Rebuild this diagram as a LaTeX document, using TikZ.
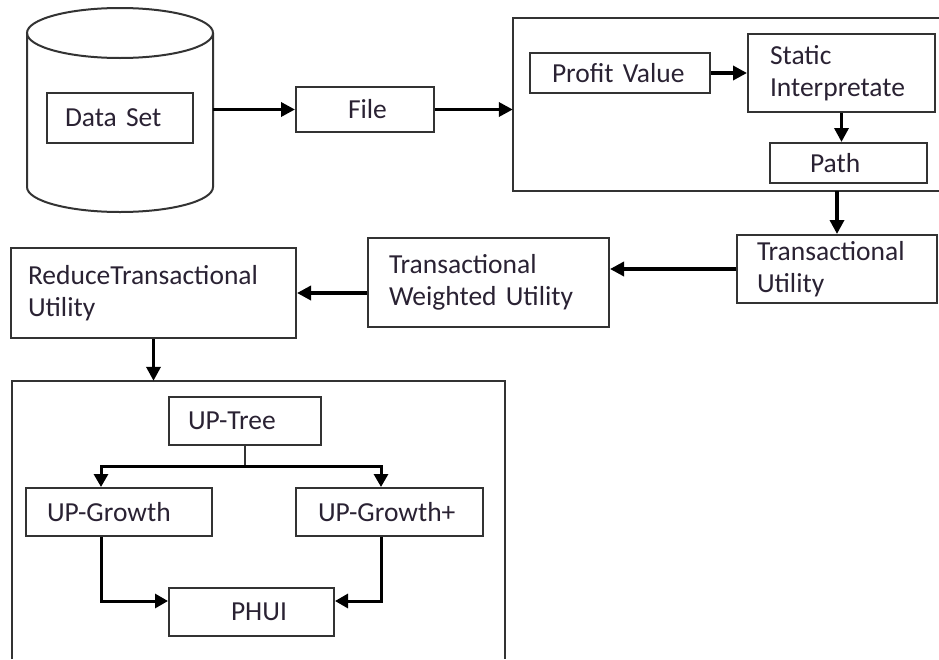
\documentclass[tikz,border=0pt]{standalone}
\usepackage{fontspec}
\setmainfont{Carlito}
\usetikzlibrary{arrows.meta}
\definecolor{ink}{HTML}{2A2233}
\definecolor{edge}{HTML}{333333}
\begin{document}
\begin{tikzpicture}[x=1pt,y=-1pt,
  font=\fontsize{27.5}{32}\selectfont,
  box/.style={draw=edge, line width=2pt, text=ink, align=left, inner ysep=0pt},
  frame/.style={draw=edge, line width=2pt},
  arr/.style={line width=3.4pt, -{Triangle[length=14pt,width=14pt]}},
  thin arr/.style={line width=3pt, -{Triangle[length=13pt,width=14pt]}}]
\useasboundingbox (0,0) rectangle (939,659);
\fill[white] (0,0) rectangle (939,659);
% database cylinder
\node[minimum width=186pt, minimum height=204pt, inner sep=0pt] (db) at (120,110) {};
\draw[frame] (27,33) -- (27,187) arc[start angle=180, end angle=360, x radius=93, y radius=-25] -- (213,33);
\draw[frame] (120,33) ellipse[x radius=93, y radius=25];
\node[box, text width=110pt, inner xsep=18pt, minimum height=50pt] (ds) at (120,118) {Data Set};
\node[box, text width=34pt, inner xsep=52pt, minimum height=45pt] (file) at (365,109.5) {File};
% process container (open on the right)
\node[minimum width=426pt, minimum height=173pt, inner sep=0pt] (proc) at (726,104.5) {};
\draw[frame] (proc.north east) -- (proc.north west) -- (proc.south west) -- (proc.south east);
\node[box, text width=136pt, inner xsep=22pt, minimum height=40pt] (pv) at (620,73) {Profit Value};
\node[box, text width=143pt, inner xsep=22pt, minimum height=78pt] (si) at (841.5,73) {Static\\Interpretate};
\node[box, text width=77pt, inner xsep=40pt, minimum height=40pt] (path) at (848.5,163) {Path};
\node[box, text width=160pt, inner xsep=20pt, minimum height=68pt] (tu) at (837,269) {Transactional\\Utility};
\node[box, text width=199pt, inner xsep=21pt, minimum height=89pt] (twu) at (488.5,282.5) {Transactional\\Weighted Utility};
\node[box, text width=251pt, inner xsep=17pt, minimum height=90pt] (rtu) at (153.5,293) {ReduceTransactional\\Utility};
% bottom container (open at the bottom)
\node[minimum width=493pt, minimum height=278pt, inner sep=0pt] (bot) at (258.5,520) {};
\draw[frame] (bot.south west) -- (bot.north west) -- (bot.north east) -- (bot.south east);
\node[box, text width=114pt, inner xsep=19pt, minimum height=48pt] (up) at (245,421) {UP-Tree};
\node[box, text width=144pt, inner xsep=21pt, minimum height=48pt] (upg) at (119,512) {UP-Growth};
\node[box, text width=143pt, inner xsep=22pt, minimum height=48pt] (upgp) at (389.5,512) {UP-Growth+};
\node[box, text width=41pt, inner xsep=62pt, minimum height=48pt] (phui) at (251.5,612) {PHUI};
% connectors
\draw[arr] (db.east |- file.west) -- (file.west);
\draw[arr] (file.east) -- (file.east -| proc.west);
\draw[arr] (pv.east) -- (si.west |- pv.east);
\draw[arr] (si.south) -- (si.south |- path.north);
\draw[arr] (tu.north |- proc.south) -- (tu.north);
\draw[arr] (tu.west) -- (twu.east |- tu.west);
\draw[arr] (twu.west |- rtu.east) -- (rtu.east);
\draw[arr] (rtu.south) -- (rtu.south |- bot.north);
\draw[line width=2.4pt, draw=edge] (up.south) -- ++(0,20) coordinate (br);
\draw[thin arr] (br) -| ([xshift=-18pt]upg.north);
\draw[thin arr] (br) -| ([xshift=-8.5pt]upgp.north);
\draw[thin arr] ([xshift=-18pt]upg.south) |- ([yshift=11pt]phui.west);
\draw[thin arr] ([xshift=-8.5pt]upgp.south) |- ([yshift=11pt]phui.east);
\end{tikzpicture}
\end{document}
